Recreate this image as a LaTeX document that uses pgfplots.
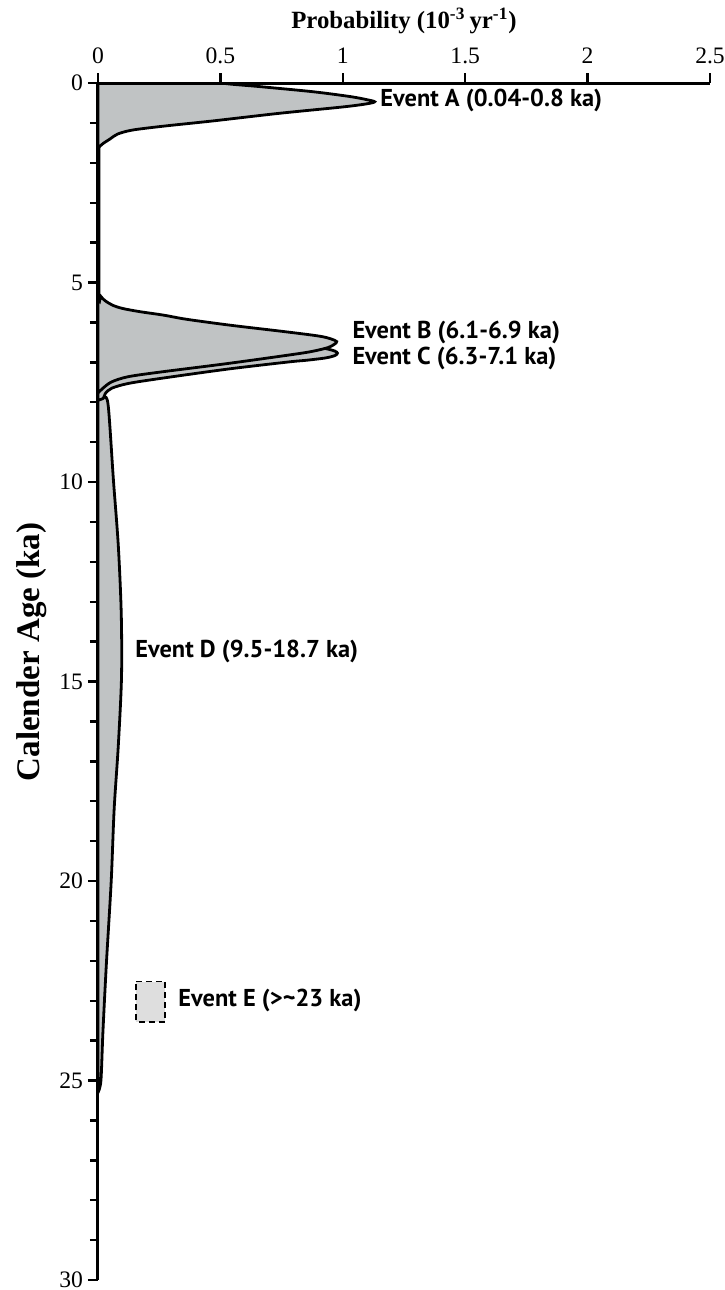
\documentclass[border=0pt]{standalone}
\usepackage{pgfplots}
\pgfplotsset{compat=1.18}
\usetikzlibrary{calc}
\usepackage{fontspec}
\setmainfont{Liberation Serif}
\newfontfamily\evfont{PT Sans}

\definecolor{pdfgray}{RGB}{192,195,196}
\definecolor{boxgray}{RGB}{222,222,222}

\begin{document}
\begin{tikzpicture}
\begin{axis}[
    scale only axis,
    width=306pt, height=598.5pt,
    axis x line=top, axis y line=left,
    axis line style={-, line width=1.5pt},
    y dir=reverse,
    xmin=0, xmax=2.5, ymin=0, ymax=30,
    xtick={0,0.5,1,1.5,2,2.5},
    ytick={0,5,10,15,20,25,30},
    minor y tick num=4,
    tick align=outside,
    major tick length=5pt, minor tick length=4pt,
    tick style={line width=1.2pt, black},
    every tick label/.append style={font=\fontsize{11.8}{13}\selectfont},
    /pgf/number format/assume math mode=true,
    xticklabel style={yshift=1pt},
    yticklabel style={xshift=1pt},
    xlabel={\textbf{Probability (10\textsuperscript{-3}\,yr\textsuperscript{-1})}},
    ylabel={\textbf{Calender Age (ka)}},
    xlabel style={at={(axis cs:1.25,0)}, anchor=center, yshift=31pt,
        font=\fontsize{12.4}{14}\selectfont},
    ylabel style={at={(axis cs:0,14.26)}, anchor=center, yshift=33pt,
        font=\fontsize{16.5}{18}\selectfont},
    axis on top=true,
    clip=true,
]
\coordinate (TL) at (axis cs:0,0);
\coordinate (BR) at (axis cs:2.5,30);
% Event D
\addplot[fill=pdfgray, draw=black, line width=1.4pt, smooth] coordinates {
    (0,7.75) (0.025,7.85) (0.042,8.1) (0.063,9.95) (0.083,11.6) (0.095,13.3)
    (0.096,14.9) (0.083,16.6) (0.066,18.2) (0.054,20.0) (0.034,22.1)
    (0.02,23.8) (0.012,25.0) (0,25.3) } -- cycle;
% Event C
\addplot[fill=pdfgray, draw=black, line width=1.4pt, smooth] coordinates {
    (0,5.4) (0.03,5.75) (0.1,5.95) (0.3,6.15) (0.55,6.35) (0.75,6.5)
    (0.88,6.6) (0.94,6.67) (0.968,6.72) (0.978,6.77) (0.968,6.83)
    (0.93,6.89) (0.85,6.95) (0.78,6.99) (0.53,7.17) (0.26,7.4)
    (0.124,7.53) (0.056,7.65) (0.03,7.78) (0.022,7.9) (0,7.95) } -- cycle;
% Event B
\addplot[fill=pdfgray, draw=black, line width=1.4pt, smooth] coordinates {
    (0,1.6) (0.004,1.75) (0.004,5.2) (0.012,5.35) (0.03,5.46) (0.06,5.57)
    (0.1,5.65) (0.17,5.73) (0.27,5.82) (0.36,5.92) (0.54,6.07) (0.76,6.23)
    (0.9,6.34) (0.95,6.41) (0.975,6.48) (0.965,6.55) (0.94,6.63)
    (0.88,6.72) (0.80,6.8) (0.53,7.03) (0.26,7.24) (0.124,7.36)
    (0.056,7.49) (0.02,7.65) (0,7.77) } -- cycle;
% Event A
\addplot[fill=pdfgray, draw=black, line width=1.4pt, smooth] coordinates {
    (0,-0.3) (0.38,-0.3) (0.47,-0.05) (0.53,0.02) (0.66,0.09) (0.88,0.22)
    (1.03,0.34) (1.10,0.42) (1.13,0.47) (1.10,0.52) (1.0,0.6) (0.74,0.76)
    (0.47,0.95) (0.27,1.08) (0.14,1.18) (0.08,1.28) (0.05,1.4)
    (0.02,1.52) (0,1.63) } -- cycle;
% Event E box
\addplot[fill=boxgray, draw=black, line width=0.8pt, dash pattern=on 3pt off 2pt] coordinates {
    (0.155,22.52) (0.274,22.52) (0.274,23.53) (0.155,23.53) } -- cycle;

\begin{scope}[every node/.style={anchor=west, inner sep=0pt,
        font=\evfont\bfseries\fontsize{12.2}{14}\selectfont}]
\node at (axis cs:1.152,0.45) {Event A (0.04-0.8 ka)};
\node at (axis cs:1.038,6.26) {Event B (6.1-6.9 ka)};
\node at (axis cs:1.038,6.90) {Event C (6.3-7.1 ka)};
\node at (axis cs:0.151,14.25) {Event D (9.5-18.7 ka)};
\node at (axis cs:0.327,23.0) {Event E (>\textasciitilde23 ka)};
\end{scope}
\end{axis}
\pgfresetboundingbox
\path[use as bounding box] ($(TL)+(-49pt,41.5pt)$) rectangle ($(BR)+(7pt,-5pt)$);
\end{tikzpicture}
\end{document}
